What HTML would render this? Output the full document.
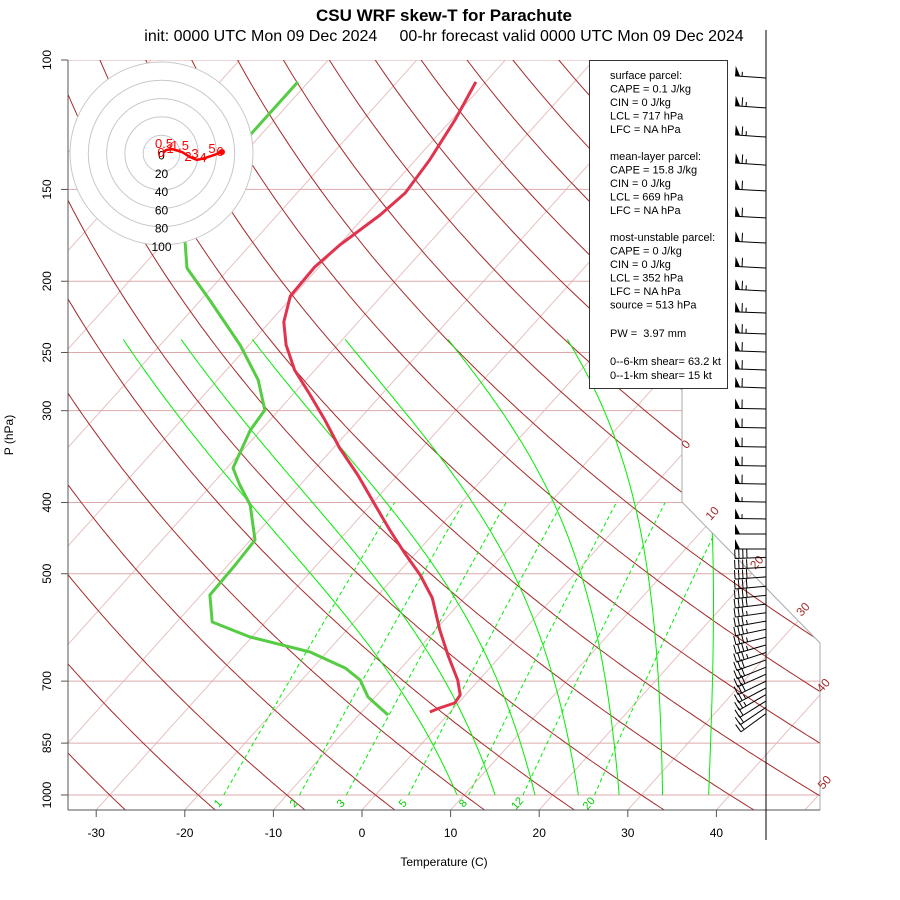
<!DOCTYPE html>
<html><head><meta charset="utf-8"><style>
body{margin:0;background:#fff}
svg{display:block;font-family:"Liberation Sans",sans-serif}
</style></head><body>
<svg id="chart" width="900" height="900" viewBox="0 0 900 900">
<defs><clipPath id="plotclip"><polygon points="68,60 682,60 682,502 820,643 820,810 68,810"/></clipPath></defs>
<rect width="900" height="900" fill="#fff"/>
<text x="444" y="21" text-anchor="middle" font-size="17" font-weight="bold">CSU WRF skew-T for Parachute</text>
<text x="444" y="41" text-anchor="middle" font-size="16" xml:space="preserve">init: 0000 UTC Mon 09 Dec 2024     00-hr forecast valid 0000 UTC Mon 09 Dec 2024</text>
<g id="grid" clip-path="url(#plotclip)"></g>
<g id="frame"></g>
<g id="profiles"></g>
<g id="hodo"></g>
<g id="barbs"></g>
<g>
<rect x="589.5" y="60.5" width="138" height="328" fill="#fff" stroke="#333" stroke-width="1"/>
<text font-size="11" x="610">
<tspan x="610" y="79">surface parcel:</tspan>
<tspan x="610" y="92.5">CAPE = 0.1 J/kg</tspan>
<tspan x="610" y="106">CIN = 0 J/kg</tspan>
<tspan x="610" y="119.5">LCL = 717 hPa</tspan>
<tspan x="610" y="133">LFC = NA hPa</tspan>
<tspan x="610" y="160">mean-layer parcel:</tspan>
<tspan x="610" y="173.5">CAPE = 15.8 J/kg</tspan>
<tspan x="610" y="187">CIN = 0 J/kg</tspan>
<tspan x="610" y="200.5">LCL = 669 hPa</tspan>
<tspan x="610" y="214">LFC = NA hPa</tspan>
<tspan x="610" y="241">most-unstable parcel:</tspan>
<tspan x="610" y="254.5">CAPE = 0 J/kg</tspan>
<tspan x="610" y="268">CIN = 0 J/kg</tspan>
<tspan x="610" y="281.5">LCL = 352 hPa</tspan>
<tspan x="610" y="295">LFC = NA hPa</tspan>
<tspan x="610" y="308.5">source = 513 hPa</tspan>
<tspan x="610" y="337" xml:space="preserve">PW =  3.97 mm</tspan>
<tspan x="610" y="365">0--6-km shear= 63.2 kt</tspan>
<tspan x="610" y="379">0--1-km shear= 15 kt</tspan>
</text></g>
<line x1="766" y1="30" x2="766" y2="840" stroke="#000" stroke-width="1"/>
<text x="444" y="866" text-anchor="middle" font-size="12">Temperature (C)</text>
<text transform="translate(13,435) rotate(-90)" text-anchor="middle" font-size="12">P (hPa)</text>
</svg>
<script>
// ---- data ----
const tempP = [107.1,120.7,136.8,151.7,162.5,178.5,191.3,209.5,227.2,244.2,264.1,285.6,308.9,337.2,367.0,403.2,436.0,468.5,502.0,539.5,596.4,647.1,697.6,731.1,749.7,761.5,771.1];
const tempC = [-61.1,-59.6,-58.4,-57.8,-58.4,-59.9,-60.5,-60.3,-58.4,-55.8,-52.3,-48.0,-43.8,-39.3,-34.5,-29.5,-25.3,-21.3,-17.3,-13.6,-9.5,-5.9,-2.4,-0.6,-0.4,-1.6,-2.3];
const dewP = [107.1,125.7,143.4,162.5,175.7,191.9,212.1,244.2,272.5,299.4,318.7,359.0,378.7,403.2,449.9,486.5,534.5,581.7,609.6,639.0,671.9,697.6,735.7,761.5,778.4];
const dewC = [-81.2,-81.2,-80.9,-79.9,-77.9,-74.8,-69.0,-61.0,-55.4,-51.6,-51.2,-49.3,-46.8,-43.6,-39.5,-39.2,-39.0,-36.0,-30.2,-21.9,-16.3,-13.4,-10.8,-8.3,-6.7];
const windP = [105.8,116.2,127.3,139.0,150.7,164.0,177.4,191.9,206.2,220.9,235.9,249.6,264.1,279.4,298.4,316.7,336.2,356.8,377.5,399.4,421.2,441.5,462.7,
  475,490,505,520,535,550,565,580,595,610,625,640,655,670,685,700,715,730,745,760,775];
const windSpd = [55,65,65,65,60,60,60,60,65,65,65,60,60,60,60,60,60,60,60,55,55,50,50,
  40,40,40,40,40,40,35,35,35,35,35,35,30,30,30,30,25,25,20,20,20];
const windDir = [274,274,274,274,273,273,273,273,273,272,272,272,272,272,271,271,271,271,271,271,271,270,270,
  268,267,266,265,264,263,262,260,258,256,254,252,250,248,246,244,242,240,238,236,234];
const hodoU = [1.6,5,11.5,22.4,31.1,38.8,47.5,57.4,66.1];
const hodoV = [0.5,3.8,4.9,1.6,-3.8,-7.1,-5,-1.6,1.6];
const hodoLab = ["0","0.5","1","1.5","2","3","4","5","6"];
const pLevels = [100,150,200,250,300,400,500,700,850,1000];
const tTicks = [-30,-20,-10,0,10,20,30,40];
const mixRatios = [1,2,3,5,8,12,20];
const moistStart = [9.2,13.5,18.0,22.9,27.5,32.4,37.6];
const isoLabelT = [0,10,20,30,40,50];
const isoLabelY = [447,516,565,612,688,785];

// ---- scales ----
const NS="http://www.w3.org/2000/svg";
function Y(p){return 60+319.2*Math.log(p/100);}
function Xy(T,y){return 362+8.86*T+0.9*(810-y);}
function X(T,p){return Xy(T,Y(p));}
function mk(tag,attrs,parent){const e=document.createElementNS(NS,tag);for(const k in attrs)e.setAttribute(k,attrs[k]);parent.appendChild(e);return e;}
function pathD(pts){return pts.map((q,i)=>(i?'L':'M')+q[0].toFixed(1)+','+q[1].toFixed(1)).join('');}
const grid=document.getElementById('grid'),frame=document.getElementById('frame'),prof=document.getElementById('profiles'),hodo=document.getElementById('hodo'),barbs=document.getElementById('barbs');

// isotherms
for(let T=-110;T<=50;T+=10){
  const l=mk('line',{x1:Xy(T,810),y1:810,x2:Xy(T,0),y2:0,stroke:'#e8c0c0','stroke-width':1},grid);
  
  
}
// pressure lines
pLevels.forEach(p=>{
  const l=mk('line',{x1:68,x2:820,y1:Y(p),y2:Y(p),stroke:'#dcaaaa','stroke-width':1},grid);
  
  
});
// dry adiabats
for(let th=-40;th<=200;th+=10){
  const pts=[];
  for(let p=1060;p>=95;p-=5){const T=(th+273.15)*Math.pow(p/1000,0.2857)-273.15;pts.push([X(T,p),Y(p)]);}
  const e=mk('path',{d:pathD(pts),fill:'none',stroke:'#a52a2a','stroke-width':1},grid);
  
  
}
// mixing ratio lines
function tdFromW(w,p){const e=w*p/(622+w);const a=Math.log(e/6.112);return 243.5*a/(17.67-a);}
mixRatios.forEach(w=>{
  const pts=[];for(let p=1000;p>=400;p-=10)pts.push([X(tdFromW(w,p),p),Y(p)]);
  const e=mk('path',{d:pathD(pts),fill:'none',stroke:'#00ee00','stroke-width':1,'stroke-dasharray':'4,3'},grid);
  
  
  const x=X(tdFromW(w,1000),1000)-6;
  const t=mk('text',{x:x,y:807,'font-size':11,fill:'#00cc00','text-anchor':'middle',transform:`rotate(-48 ${x} 803)`},frame);
  t.textContent=w;
  
  
});
// moist adiabats
function es(T){return 6.112*Math.exp(17.67*T/(T+243.5));}
moistStart.forEach(T0=>{
  let T=T0+273.15;const pts=[];
  for(let p=1000;p>=240;p-=1){
    if(p%2===0)pts.push([X(T-273.15,p),Y(p)]);
    const e=es(T-273.15),rs=0.622*e/(p-e),Lv=2.28e6,Rd=287,cp=1004;
    const dTdp=(Rd*T+Lv*rs)/(p*(cp+Lv*Lv*rs*0.622/(Rd*T*T)));
    T-=dTdp;
  }
  const e=mk('path',{d:pathD(pts),fill:'none',stroke:'#00ee00','stroke-width':1},grid);
  
  
});
// frame outline
mk('polyline',{points:'682,60 682,502 820,643 820,810',fill:'none',stroke:'#aaa','stroke-width':1},frame);
mk('line',{x1:68,y1:810,x2:820,y2:810,stroke:'#555','stroke-width':1},frame);
mk('line',{x1:68,y1:60,x2:68,y2:810,stroke:'#555','stroke-width':1},frame);
// isotherm labels
isoLabelT.forEach((T,i)=>{
  const y=isoLabelY[i],x=Xy(T,y);
  const t=mk('text',{x:x,y:y,'font-size':12,fill:'#a52a2a','text-anchor':'middle',transform:`rotate(-48 ${x} ${y})`},frame);
  t.textContent=T;
  
  
});
// y ticks
pLevels.forEach(p=>{
  const y=Y(p);
  mk('line',{x1:61,x2:68,y1:y,y2:y,stroke:'#555'},frame);
  const t=mk('text',{x:51,y:y,'font-size':12,'text-anchor':'middle',transform:`rotate(-90 51 ${y})`},frame);
  t.textContent=p;
  
  
});
// x ticks
tTicks.forEach(T=>{
  const x=Xy(T,810);
  mk('line',{x1:x,x2:x,y1:810,y2:817,stroke:'#555'},frame);
  const t=mk('text',{x:x,y:837,'font-size':12,'text-anchor':'middle'},frame);
  t.textContent=T;
  
  
});
// profiles
const tPath=mk('path',{d:pathD(tempP.map((p,i)=>[X(tempC[i],p),Y(p)])),fill:'none',stroke:'#e0344e','stroke-width':3,'stroke-linejoin':'round'},prof);


const dPath=mk('path',{d:pathD(dewP.map((p,i)=>[X(dewC[i],p),Y(p)])),fill:'none',stroke:'#55cc44','stroke-width':3,'stroke-linejoin':'round'},prof);


// hodograph
const cx=161.5,cy=153.5,sc=0.915;
mk('circle',{cx:cx,cy:cy,r:91.5,fill:'#fff',stroke:'none'},hodo);
[20,40,60,80,100].forEach(r=>{
  const c=mk('circle',{cx:cx,cy:cy,r:r*sc,fill:'none',stroke:'#c8c8c8','stroke-width':1},hodo);
  
  
});
[0,20,40,60,80,100].forEach(r=>{
  const t=mk('text',{x:cx,y:cy+r*sc+6,'font-size':12,'text-anchor':'middle'},hodo);
  t.textContent=r;
  
  
});
const hp=hodoU.map((u,i)=>[cx+u*sc,cy-hodoV[i]*sc]);
const hl=mk('path',{d:pathD(hp),fill:'none',stroke:'#ff0000','stroke-width':2.5},hodo);


hp.forEach((q,i)=>{
  const t=mk('text',{x:q[0]-2,y:q[1]+(i%2?-2:4),'font-size':13,fill:'#ff0000','text-anchor':'middle'},hodo);
  t.textContent=hodoLab[i];
  
  
});
const last=hp[hp.length-1];
mk('circle',{cx:last[0],cy:last[1],r:3,fill:'#ff0000'},hodo);
// wind barbs
windP.forEach((p,i)=>{
  const g=mk('g',{},barbs);
  
  
  const d=windDir[i]*Math.PI/180,dx=Math.sin(d),dy=-Math.cos(d);
  const px=-dy,py=dx; // perpendicular
  const x0=766,y0=Y(p),L=31;
  const tx=x0+dx*L,ty=y0+dy*L;
  mk('line',{x1:x0,y1:y0,x2:tx,y2:ty,stroke:'#000','stroke-width':1},g);
  let s=Math.round(windSpd[i]/5)*5,pos=0;
  while(s>=50){
    const a=[tx-dx*pos,ty-dy*pos],b=[tx-dx*(pos+5),ty-dy*(pos+5)];
    const c=[a[0]+px*10,a[1]+py*10];
    mk('polygon',{points:`${a[0]},${a[1]} ${b[0]},${b[1]} ${c[0]},${c[1]}`,fill:'#000'},g);
    pos+=7;s-=50;
  }
  while(s>=10){
    const a=[tx-dx*pos,ty-dy*pos];
    mk('line',{x1:a[0],y1:a[1],x2:a[0]+px*9,y2:a[1]+py*9,stroke:'#000','stroke-width':1},g);
    pos+=4;s-=10;
  }
  if(s>=5){
    const a=[tx-dx*pos,ty-dy*pos];
    mk('line',{x1:a[0],y1:a[1],x2:a[0]+px*4.5,y2:a[1]+py*4.5,stroke:'#000','stroke-width':1},g);
  }
});
</script>
</body></html>
